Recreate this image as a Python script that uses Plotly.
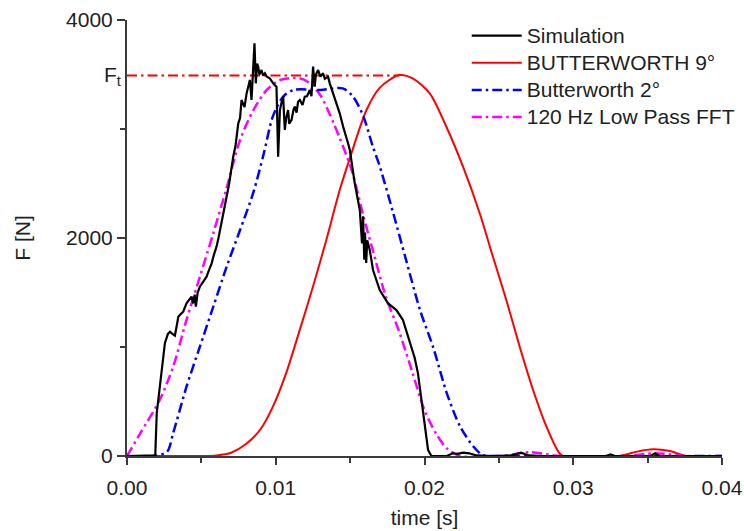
import plotly.graph_objects as go

# ---------------- data ----------------
sim_t = [0, 0.0018, 0.0019, 0.0020, 0.00233, 0.00255, 0.00275, 0.00289, 0.00305, 0.00322,
         0.00335, 0.00345, 0.0036, 0.00378, 0.0040, 0.00415, 0.00434, 0.00445, 0.00455, 0.00463,
         0.00475, 0.0049, 0.0051, 0.00535, 0.0055, 0.00569, 0.00585, 0.00602, 0.00615, 0.00625,
         0.00635, 0.00647, 0.0066, 0.0067, 0.00687, 0.00714, 0.0073, 0.00748, 0.0076, 0.0077,
         0.0079, 0.00804, 0.00815, 0.00826, 0.00837, 0.00848, 0.00857, 0.00866, 0.00875, 0.00882,
         0.0089, 0.00904, 0.00915, 0.00927, 0.0094, 0.0096, 0.0097, 0.00983, 0.00995, 0.01005,
         0.01016, 0.01022, 0.01028, 0.0104, 0.0105, 0.01055, 0.01061, 0.0107, 0.01083, 0.0109,
         0.01106, 0.0112, 0.01128, 0.0114, 0.0115, 0.01162, 0.0118, 0.01195, 0.0121, 0.01229,
         0.0124, 0.01251, 0.01262, 0.0127, 0.01285, 0.0130, 0.01318, 0.0133, 0.01352, 0.01363,
         0.0138, 0.01397, 0.0141, 0.0143, 0.01453, 0.0147, 0.01486, 0.01498, 0.01531, 0.01565,
         0.0158, 0.01587, 0.01595, 0.0160, 0.01608, 0.01615, 0.01632, 0.01654, 0.01699, 0.01755,
         0.01811, 0.01855, 0.01901, 0.01934, 0.01956, 0.01979, 0.02001, 0.02024, 0.02046, 0.0215,
         0.0219, 0.0222, 0.0226, 0.0230, 0.0235, 0.0245, 0.0258, 0.0265, 0.0270, 0.0280,
         0.0322, 0.0325, 0.0328, 0.0352, 0.0355, 0.0358, 0.0400]
sim_f = [0, 0, 5, 394, 761, 1037, 1120, 1140, 1120, 1105,
         1200, 1278, 1300, 1324, 1400, 1430, 1462, 1400, 1480, 1370,
         1500, 1553, 1590, 1645, 1700, 1768, 1850, 1920, 2000, 2073,
         2150, 2226, 2300, 2379, 2500, 2746, 2850, 3052, 3100, 3266,
         3200, 3327, 3400, 3450, 3266, 3541, 3786, 3419, 3600, 3572,
         3500, 3541, 3490, 3511, 3480, 3465, 3440, 3419, 3400, 3388,
         2746, 3000, 3174, 3250, 3297, 3150, 2991, 3100, 3174, 3050,
         3083, 3180, 3205, 3150, 3250, 3266, 3220, 3297, 3300, 3358,
         3300, 3572, 3388, 3500, 3541, 3480, 3511, 3460, 3480, 3419,
         3350, 3297, 3230, 3144, 3022, 2930, 2869, 2807, 2502, 2257,
         1950, 2200, 1800, 2050, 1770, 1980, 1890, 1706, 1523, 1400,
         1339, 1248, 1034, 900, 758, 514, 269, 55, 0, 0,
         25, 20, 30, 25, 5, 0, 5, 30, 5, 0,
         0, 15, 0, 0, 25, 0, 0]

bw9_t = [0, 0.0050, 0.0060, 0.0070, 0.0080, 0.0090, 0.0098, 0.0107, 0.0116, 0.0125,
         0.0134, 0.0143, 0.0150, 0.0161, 0.0170, 0.0183, 0.0192, 0.02035, 0.02147, 0.02259,
         0.02371, 0.0246, 0.0255, 0.0264, 0.0273, 0.0282, 0.0290, 0.0293, 0.0331, 0.0343,
         0.03535, 0.0365, 0.0376, 0.0400]
bw9_f = [0, 0, 5, 30, 110, 250, 450, 760, 1150, 1553,
         1982, 2440, 2740, 3174, 3380, 3495, 3465, 3327, 3021, 2654,
         2227, 1828, 1431, 1003, 606, 269, 40, 0, 0, 40,
         61, 45, 0, 0]

bw2_t = [0, 0.0018, 0.0027, 0.0031, 0.0040, 0.0049, 0.0058, 0.0067, 0.0076, 0.0085,
         0.0092, 0.0098, 0.0105, 0.0112, 0.0130, 0.0145, 0.0152, 0.0159, 0.0165, 0.0170,
         0.0179, 0.0187, 0.0197, 0.0206, 0.0215, 0.0224, 0.0233, 0.0239, 0.0250, 0.0400]
bw2_f = [0, 0, 40, 208, 636, 1003, 1370, 1737, 2073, 2420,
         2777, 3113, 3297, 3358, 3358, 3373, 3297, 3113, 2850, 2654,
         2227, 1829, 1339, 990, 575, 269, 85, 10, 0, 0]

fft_t = [0, 0.0009, 0.0022, 0.0031, 0.0040, 0.0049, 0.0058, 0.0067, 0.0076, 0.0085,
         0.0094, 0.0103, 0.0116, 0.0123, 0.0130, 0.0139, 0.0151, 0.0159, 0.0165, 0.0174,
         0.0183, 0.0192, 0.0200, 0.0208, 0.0215, 0.0224, 0.0251, 0.0271, 0.0291, 0.0335,
         0.0355, 0.0376, 0.0400]
fft_f = [0, 210, 514, 819, 1248, 1645, 2043, 2460, 2899, 3174,
         3358, 3450, 3465, 3419, 3310, 3050, 2624, 2196, 1900, 1462,
         1140, 760, 420, 200, 70, 0, 0, 34, 0, 0,
         25, 0, 0]

ft_t = [0, 0.0183]
ft_f = [3490, 3490]

x_ticks = [0, 0.01, 0.02, 0.03, 0.04]
x_labels = ["0.00", "0.01", "0.02", "0.03", "0.04"]
y_ticks = [0, 2000, 4000]
y_labels = ["0", "2000", "4000"]

FONT = "Liberation Sans, Arial, sans-serif"
TXT = "#222222"
AX = "#3a3a3a"
DD = "10px,4px,2.5px,4px"


def lg(name):
    return '<span style="font-size:21px">' + name + '</span>'


fig = go.Figure()
fig.add_trace(go.Scatter(x=ft_t, y=ft_f, mode="lines", showlegend=False,
                         line=dict(color="#ff0000", width=2, dash=DD), hoverinfo="skip"))
fig.add_trace(go.Scatter(x=bw9_t, y=bw9_f, mode="lines", name=lg("BUTTERWORTH 9°"),
                         line=dict(color="#ff0000", width=2, shape="spline", smoothing=0.8),
                         legendrank=2))
fig.add_trace(go.Scatter(x=fft_t, y=fft_f, mode="lines", name=lg("120 Hz Low Pass FFT"),
                         line=dict(color="#ff00ff", width=2.5, dash=DD, shape="spline", smoothing=0.8),
                         legendrank=4))
fig.add_trace(go.Scatter(x=bw2_t, y=bw2_f, mode="lines", name=lg("Butterworth 2°"),
                         line=dict(color="#0000ff", width=2.5, dash=DD, shape="spline", smoothing=0.8),
                         legendrank=3))
fig.add_trace(go.Scatter(x=sim_t, y=sim_f, mode="lines", name=lg("Simulation"),
                         line=dict(color="#000000", width=2.2), legendrank=1))

fig.add_annotation(xref="paper", yref="y", x=0, y=3490, xanchor="right", yanchor="middle",
                   xshift=-4, text="F<sub>t</sub>", showarrow=False,
                   font=dict(family=FONT, size=21, color=TXT))

fig.update_layout(
    width=744, height=531,
    margin=dict(l=127, r=22, t=20, b=75, autoexpand=False),
    paper_bgcolor="white", plot_bgcolor="white",
    font=dict(family=FONT, size=21, color=TXT),
    showlegend=True,
    legend=dict(x=0.571, y=1.007, xanchor="left", yanchor="top",
                bgcolor="rgba(0,0,0,0)", borderwidth=0,
                font=dict(family=FONT, size=18.6, color=TXT),
                itemwidth=50, tracegroupgap=0, traceorder="normal"),
)
fig.update_xaxes(range=[0, 0.04], tickvals=x_ticks, ticktext=x_labels,
                 showgrid=False, zeroline=False, showline=True, linecolor=AX, linewidth=2,
                 ticks="outside", ticklen=7, tickwidth=1.5, tickcolor=AX, ticklabelstandoff=5,
                 minor=dict(dtick=0.005, ticks="outside", ticklen=5, tickwidth=1.5, tickcolor=AX, showgrid=False),
                 title=dict(text="time [s]", font=dict(family=FONT, size=21, color=TXT), standoff=12))
fig.update_yaxes(range=[0, 4000], tickvals=y_ticks, ticktext=y_labels,
                 showgrid=False, zeroline=False, showline=True, linecolor=AX, linewidth=2,
                 ticks="outside", ticklen=8, tickwidth=1.5, tickcolor=AX,
                 minor=dict(dtick=1000, ticks="outside", ticklen=5, tickwidth=1.5, tickcolor=AX, showgrid=False),
                 title=dict(text="F [N]", font=dict(family=FONT, size=21, color=TXT), standoff=30))

fig.write_html("out.html")
